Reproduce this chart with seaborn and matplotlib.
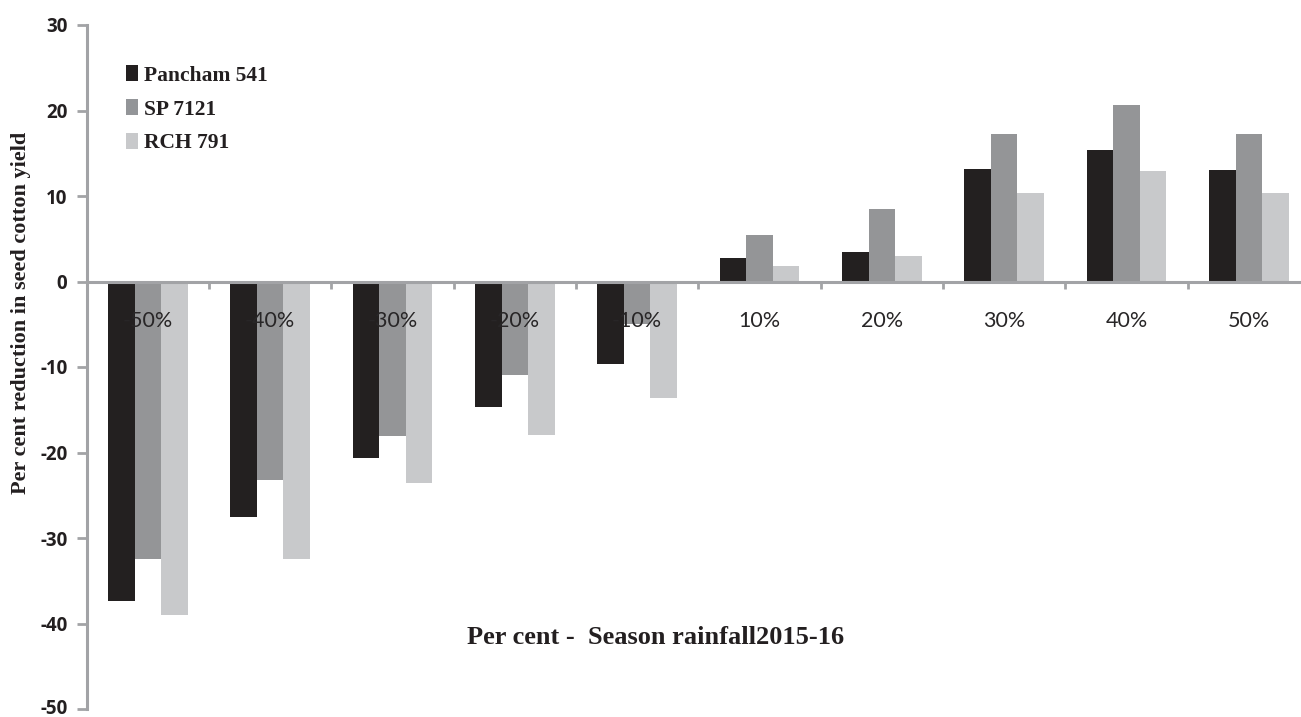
import matplotlib
matplotlib.use("Agg")
import matplotlib.pyplot as plt
from matplotlib.ticker import FixedLocator, NullFormatter
from matplotlib.patches import Patch
from matplotlib.transforms import ScaledTranslation
import seaborn as sns
import pandas as pd

# Rainfall deviation classes (per cent of normal season rainfall)
categories = ["-50%", "-40%", "-30%", "-20%", "-10%", "10%", "20%", "30%", "40%", "50%"]
varieties = ["Pancham 541", "SP 7121", "RCH 791"]

# Per cent change in seed cotton yield for each variety
pancham_541 = [-37.4, -27.5, -20.6, -14.7, -9.6, 2.8, 3.4, 13.1, 15.4, 13.0]
sp_7121 = [-32.4, -23.2, -18.1, -10.9, -5.0, 5.4, 8.5, 17.2, 20.6, 17.2]
rch_791 = [-39.0, -32.4, -23.6, -18.0, -13.6, 1.8, 3.0, 10.4, 12.9, 10.3]

y_ticks = [-50, -40, -30, -20, -10, 0, 10, 20, 30]
y_tick_labels = ["-50", "-40", "-30", "-20", "-10", "0", "10", "20", "30"]

colors = ["#231f20", "#939598", "#c8c9cb"]
axis_gray = "#a2a3a6"
text_dark = "#231f20"

sns.set_style("white")
plt.rcParams["axes.unicode_minus"] = False

rows = []
for name, vals in zip(varieties, [pancham_541, sp_7121, rch_791]):
    for cat, v in zip(categories, vals):
        rows.append({"rainfall": cat, "variety": name, "value": v})
df = pd.DataFrame(rows)

fig = plt.figure(figsize=(13.01, 7.17), dpi=100)
W, H = 1301, 717
ax_left, ax_right = 86.7, 1310.0
ax_top, ax_bottom = 25.0, 709.0
ax = fig.add_axes([ax_left / W, 1 - ax_bottom / H,
                   (ax_right - ax_left) / W, (ax_bottom - ax_top) / H])

sns.barplot(data=df, x="rainfall", y="value", hue="variety",
            order=categories, hue_order=varieties, palette=colors,
            width=0.65, gap=0, errorbar=None, legend=False,
            edgecolor="none", linewidth=0, ax=ax, zorder=1)

ax.set_xlim(-0.5, len(categories) - 0.5)
ax.set_ylim(-50, 30)
ax.set_axisbelow(False)

for side in ["top", "right"]:
    ax.spines[side].set_visible(False)
ax.spines["left"].set_color(axis_gray)
ax.spines["left"].set_linewidth(2.2)
ax.spines["bottom"].set_color(axis_gray)
ax.spines["bottom"].set_linewidth(2.2)
ax.spines["bottom"].set_position(("data", 0))
ax.spines["bottom"].set_zorder(3)

# y axis
ax.yaxis.set_major_locator(FixedLocator(y_ticks))
ax.set_yticklabels(y_tick_labels, fontfamily="Open Sans", fontweight="bold",
                   fontsize=13.5, color=text_dark)
ax.tick_params(axis="y", which="major", direction="out", length=7, width=2,
               color=axis_gray, pad=7, left=True)
# keep the lowest label inside the canvas
lowest = ax.get_yticklabels()[0]
lowest.set_transform(lowest.get_transform() + ScaledTranslation(0, 3 / 100, fig.dpi_scale_trans))

# x axis: labels at category centres, short ticks at category boundaries
ax.xaxis.set_major_locator(FixedLocator(range(len(categories))))
ax.set_xticklabels(categories, fontfamily="Lato", fontsize=15.5, color="#282627")
ax.xaxis.set_minor_locator(FixedLocator([i - 0.5 for i in range(len(categories) + 1)]))
ax.xaxis.set_minor_formatter(NullFormatter())
ax.tick_params(axis="x", which="major", length=0, pad=21, bottom=True)
ax.tick_params(axis="x", which="minor", direction="out", length=5, width=2,
               color=axis_gray, bottom=True)
ax.set_xlabel("")
ax.set_ylabel("")

fig.text(656 / W, 1 - 637 / H, "Per cent -  Season rainfall2015-16",
         fontfamily="Liberation Serif", fontweight="bold", fontsize=19,
         color=text_dark, ha="center", va="center")
fig.text(21 / W, 1 - 313 / H, "Per cent reduction in seed cotton yield",
         fontfamily="Liberation Serif", fontweight="bold", fontsize=16,
         color=text_dark, ha="center", va="center", rotation=90)

handles = [Patch(facecolor=c, edgecolor="none") for c in colors]
leg = fig.legend(handles, varieties, loc="upper left",
                 bbox_to_anchor=(107 / W, 1 - 46 / H),
                 frameon=False, handlelength=0.55, handleheight=0.75,
                 handletextpad=0.25, labelspacing=0.62,
                 prop={"family": "Liberation Serif", "weight": "bold", "size": 15.5})
for t in leg.get_texts():
    t.set_color(text_dark)

fig.savefig("out.png", dpi=100, facecolor="white")
